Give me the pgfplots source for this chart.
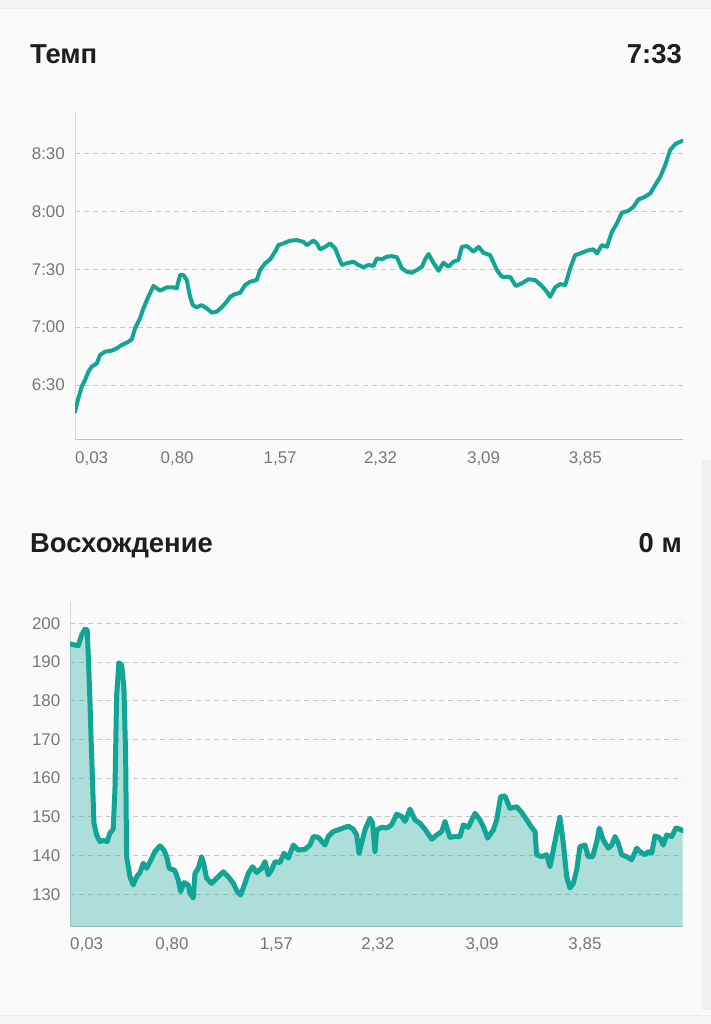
\documentclass[border=0pt]{standalone}
\usepackage{fontspec}
\setmainfont{Liberation Sans}
\usepackage{pgfplots}
\usepackage{pgfplotstable}
\pgfplotsset{compat=1.18}
\definecolor{bg}{HTML}{FAFAFA}
\definecolor{teal1}{HTML}{12A596}
\definecolor{tickc}{HTML}{777777}
\definecolor{gridc}{HTML}{C8C8C8}
\definecolor{titlec}{HTML}{1E1E1E}

\pgfplotstableread{
km sec
0.037 376.2
0.062 383.1
0.087 389.1
0.112 392.6
0.137 396.9
0.162 399.5
0.200 401.2
0.224 405.5
0.262 407.3
0.312 407.8
0.349 409.0
0.386 410.7
0.436 412.4
0.461 413.7
0.486 419.4
0.523 424.6
0.548 429.7
0.585 435.7
0.623 441.3
0.648 440.1
0.673 438.9
0.723 440.6
0.772 440.6
0.797 440.1
0.822 447.0
0.847 447.0
0.872 444.4
0.897 435.7
0.917 431.4
0.947 430.3
0.984 431.4
1.022 429.7
1.059 427.5
1.096 428.0
1.134 430.3
1.171 433.2
1.196 435.7
1.233 437.1
1.271 437.8
1.308 441.8
1.345 443.5
1.395 444.4
1.420 449.6
1.457 453.0
1.495 455.1
1.532 459.1
1.557 462.5
1.594 463.4
1.644 464.8
1.694 465.1
1.744 464.2
1.769 462.5
1.818 464.8
1.844 463.4
1.868 460.3
1.906 461.6
1.943 463.4
1.981 460.8
2.005 456.5
2.031 452.2
2.068 453.1
2.117 453.9
2.155 452.2
2.192 451.0
2.229 452.2
2.267 451.7
2.292 455.6
2.330 455.1
2.367 456.5
2.404 456.8
2.442 456.2
2.479 450.5
2.516 448.7
2.554 448.2
2.591 449.6
2.629 451.3
2.653 455.1
2.678 457.9
2.715 453.4
2.753 449.2
2.790 453.4
2.827 451.3
2.865 453.9
2.902 454.8
2.927 461.6
2.965 462.0
3.014 459.1
3.052 461.6
3.089 458.5
3.139 457.3
3.189 449.6
3.226 446.1
3.288 446.1
3.331 441.3
3.376 442.7
3.425 444.8
3.475 444.4
3.525 441.3
3.563 438.3
3.587 435.7
3.625 440.6
3.662 442.3
3.700 441.8
3.737 450.5
3.774 457.3
3.812 458.2
3.862 459.6
3.911 460.3
3.937 458.2
3.974 462.5
4.011 461.6
4.049 469.4
4.086 473.8
4.123 479.3
4.173 480.3
4.210 482.4
4.247 486.2
4.285 487.2
4.335 489.3
4.372 493.6
4.410 497.9
4.447 504.0
4.484 511.8
4.522 514.9
4.559 516.1
4.579 516.6
}\pace

\pgfplotstableread{
km m
0.047 194.7
0.083 194.4
0.108 194.2
0.133 197.0
0.157 198.5
0.174 198.3
0.182 191.8
0.194 180.2
0.207 165.6
0.224 148.3
0.244 145.3
0.268 143.6
0.292 143.9
0.322 143.6
0.342 145.8
0.366 146.8
0.379 157.0
0.391 181.1
0.408 189.8
0.428 189.3
0.445 183.6
0.458 165.6
0.465 139.7
0.490 134.5
0.514 132.4
0.539 134.5
0.564 135.6
0.588 138.0
0.613 136.7
0.643 138.7
0.674 141.0
0.711 142.5
0.741 141.4
0.761 139.7
0.780 136.7
0.822 136.1
0.846 133.7
0.864 130.7
0.889 133.0
0.920 132.4
0.933 130.3
0.957 129.0
0.970 135.4
0.994 136.7
1.019 139.7
1.036 137.6
1.056 134.1
1.093 132.8
1.130 134.1
1.179 135.8
1.216 134.5
1.253 132.8
1.282 130.7
1.307 129.8
1.339 132.8
1.363 135.4
1.396 137.1
1.425 135.6
1.462 136.7
1.487 138.4
1.511 135.0
1.536 136.3
1.561 138.4
1.598 138.2
1.627 140.6
1.659 139.3
1.696 142.7
1.733 141.4
1.782 141.6
1.819 142.7
1.844 144.9
1.881 144.7
1.930 142.7
1.954 144.9
1.991 146.2
2.041 146.8
2.102 147.6
2.139 146.8
2.164 145.3
2.182 140.6
2.225 146.6
2.262 149.6
2.282 148.3
2.299 141.0
2.312 146.6
2.349 147.3
2.386 147.1
2.422 147.9
2.459 150.7
2.496 150.1
2.521 148.8
2.558 152.0
2.595 149.2
2.632 148.3
2.668 146.8
2.718 144.2
2.755 145.3
2.792 146.2
2.816 148.8
2.853 144.7
2.890 144.9
2.927 144.9
2.951 147.9
2.988 147.3
3.038 150.9
3.075 149.2
3.099 147.5
3.131 144.5
3.173 146.6
3.198 149.2
3.227 155.2
3.259 155.4
3.296 152.2
3.346 152.6
3.383 151.1
3.420 149.2
3.456 147.3
3.481 146.2
3.493 140.2
3.530 139.7
3.567 140.2
3.592 137.1
3.621 142.3
3.645 146.6
3.665 149.9
3.690 143.2
3.715 134.5
3.739 131.6
3.764 132.8
3.789 136.3
3.813 142.3
3.850 142.7
3.874 139.7
3.907 139.7
3.937 143.6
3.956 147.1
3.985 144.0
4.022 141.9
4.047 142.7
4.072 144.9
4.096 143.2
4.121 140.2
4.158 139.7
4.195 138.9
4.232 141.9
4.256 141.0
4.293 140.2
4.318 141.0
4.343 140.6
4.367 145.1
4.404 144.5
4.428 142.7
4.453 145.3
4.490 144.9
4.522 147.1
4.552 146.8
4.572 146.4
}\elev

\pgfplotsset{
  phone/.style={
    scale only axis,
    axis x line=bottom,
    axis y line=left,
    axis line style={-},
    x axis line style={draw=black!25, line width=0.9bp},
    y axis line style={draw=black!15, line width=0.9bp},
    major tick length=0pt,
    tick style={draw=none},
    ymajorgrids,
    grid style={draw=gridc, line width=0.8bp, dash pattern=on 5bp off 4bp},
    tick label style={font=\fontsize{17}{20}\selectfont, text=tickc, inner sep=0pt},
    /pgf/number format/assume math mode=true,
  }
}

\begin{document}
\begin{tikzpicture}[x=1bp,y=1bp]
\fill[bg] (0,0) rectangle (711,1024);
\useasboundingbox (0,0) rectangle (711,1024);
\fill[black!5] (0,1016) rectangle (711,1024);
\draw[black!8, line width=0.6bp] (0,1016) -- (711,1016);
\fill[black!4] (0,0) rectangle (711,9);
\draw[black!7, line width=0.6bp] (0,9) -- (711,9);
\fill[black!6] (702,14) rectangle (711,564);

\node[anchor=base west, inner sep=0pt, font=\bfseries\fontsize{27.5}{32}\selectfont, text=titlec] at (30,960) {Темп};
\node[anchor=base east, inner sep=0pt, font=\bfseries\fontsize{27.5}{32}\selectfont, text=titlec] at (682,960) {7:33};
\node[anchor=base west, inner sep=0pt, font=\bfseries\fontsize{27.5}{32}\selectfont, text=titlec] at (30,471) {Восхождение};
\node[anchor=base east, inner sep=0pt, font=\bfseries\fontsize{27.5}{32}\selectfont, text=titlec] at (682,471) {0 м};

\begin{axis}[phone,
  at={(75bp,585bp)}, anchor=south west,
  width=608bp, height=326bp,
  xmin=0.037, xmax=4.58,
  ymin=362, ymax=531,
  xtick={0.038,0.80,1.57,2.32,3.09,3.85},
  xticklabels={\makebox[0pt][l]{0,03},{0,80},{1,57},{2,32},{3,09},{3,85}},
  ytick={390,420,450,480,510},
  yticklabels={6:30,7:00,7:30,8:00,8:30},
  yticklabel style={anchor=east, xshift=-10bp},
  xticklabel style={anchor=north, yshift=-12.5bp},
]
\addplot[teal1, line width=4bp, line join=round, line cap=round] table[x=km, y=sec] {\pace};
\end{axis}

\begin{axis}[phone,
  at={(70bp,97.3bp)}, anchor=south west,
  width=613bp, height=325bp,
  xmin=0.047, xmax=4.574,
  ymin=121.6, ymax=205.6,
  xtick={0.048,0.80,1.57,2.32,3.09,3.85},
  xticklabels={\makebox[0pt][l]{0,03},{0,80},{1,57},{2,32},{3,09},{3,85}},
  ytick={130,140,150,160,170,180,190,200},
  yticklabels={130,140,150,160,170,180,190,200},
  yticklabel style={anchor=east, xshift=-9.5bp},
  xticklabel style={anchor=north, yshift=-11bp},
]
\addplot[draw=none, fill=teal1, fill opacity=0.33] table[x=km, y=m] {\elev} \closedcycle;
\addplot[teal1, line width=5bp, line join=round, line cap=round] table[x=km, y=m] {\elev};
\end{axis}
\end{tikzpicture}
\end{document}
